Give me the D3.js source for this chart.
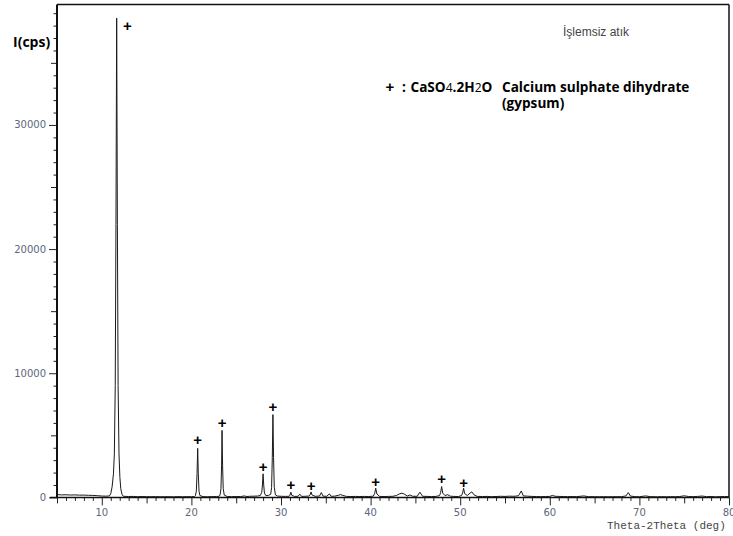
<!DOCTYPE html>
<html>
<head>
<meta charset="utf-8">
<script src="https://cdn.jsdelivr.net/npm/d3@7"></script>
<style>
body { margin: 0; background: #fff; }
svg { display: block; }
</style>
</head>
<body>
<svg width="733" height="536"></svg>
<script>
// 2theta (deg), intensity (cps)
var pattern = [
[5.0, 230],[5.5, 200],[6.0, 210],[6.5, 190],[7.0, 200],[7.5, 180],[8.0, 185],[8.5, 170],[9.0, 160],[9.5, 140],[10.0, 110],[10.5, 100],
[10.85, 120],[11.0, 300],[11.15, 850],[11.3, 1900],[11.4, 3500],[11.5, 9000],[11.58, 22000],[11.66, 38600],[11.74, 22000],[11.82, 9000],[11.92, 3500],[12.02, 1600],[12.12, 700],[12.25, 250],
[12.4, 90],[13.0, 70],[13.5, 80],[14.0, 60],[14.5, 70],[15.0, 60],[15.5, 55],[16.0, 65],[16.5, 50],[17.0, 60],[17.5, 55],[18.0, 50],[18.5, 60],[19.0, 55],[19.5, 60],[20.0, 55],[20.35, 70],
[20.45, 150],[20.55, 500],[20.63, 1900],[20.7, 3950],[20.77, 1900],[20.85, 500],[20.95, 150],
[21.3, 60],[21.8, 55],[22.3, 60],[22.8, 70],[23.1, 90],
[23.2, 200],[23.3, 700],[23.37, 2600],[23.42, 5400],[23.48, 2600],[23.55, 700],[23.67, 180],
[24.0, 70],[24.5, 60],[25.0, 70],[25.5, 65],[25.9, 120],[26.2, 70],[26.5, 90],[27.0, 100],[27.4, 110],[27.7, 160],
[27.85, 400],[27.93, 1000],[28.0, 1900],[28.07, 1000],[28.15, 350],[28.3, 150],[28.6, 160],[28.85, 250],
[28.95, 800],[29.03, 3200],[29.1, 6670],[29.17, 3200],[29.25, 800],[29.38, 200],
[29.6, 110],[30.0, 90],[30.5, 80],[30.9, 90],
[31.0, 180],[31.1, 420],[31.2, 170],[31.5, 80],[31.9, 90],[32.1, 260],[32.3, 80],[32.7, 90],[33.1, 110],
[33.25, 200],[33.35, 440],[33.45, 200],[33.8, 90],[34.3, 110],[34.5, 390],[34.7, 100],[35.1, 90],[35.4, 280],[35.6, 90],[36.0, 100],[36.4, 170],[36.65, 225],[36.9, 160],[37.3, 80],[37.8, 70],[38.3, 80],[38.8, 70],[39.3, 80],[39.8, 70],[40.3, 100],
[40.45, 300],[40.57, 740],[40.7, 280],[41.0, 80],[41.5, 70],[42.0, 80],[42.5, 90],[42.9, 160],[43.2, 280],[43.5, 340],[43.8, 250],[44.1, 110],[44.4, 200],[44.7, 90],[45.2, 90],[45.5, 420],[45.8, 90],[46.3, 80],[46.8, 70],[47.3, 80],[47.7, 150],
[47.82, 400],[47.93, 870],[48.05, 350],[48.3, 150],[48.6, 220],[48.9, 100],[49.3, 80],[49.8, 70],[50.15, 150],
[50.27, 350],[50.38, 740],[50.5, 300],[50.8, 150],[51.1, 350],[51.3, 440],[51.55, 200],[51.9, 80],[52.5, 70],[53.0, 80],[53.5, 60],[54.0, 70],[54.5, 90],[55.0, 80],[55.5, 100],[56.0, 90],[56.5, 130],[56.82, 520],[57.05, 120],[57.5, 100],[58.0, 80],[58.5, 70],[59.0, 60],[59.5, 70],[60.0, 80],[60.3, 160],[60.6, 90],[61.0, 80],[61.5, 70],[62.0, 60],[62.5, 70],[63.0, 60],[63.8, 120],[64.3, 60],[65.0, 60],[65.5, 50],[66.0, 60],[66.5, 50],[67.0, 60],[67.5, 55],[68.0, 60],[68.5, 120],[68.76, 385],[69.0, 110],[69.5, 60],[70.0, 55],[70.7, 120],[71.2, 60],[72.0, 50],[72.5, 60],[73.0, 50],[73.5, 60],[74.0, 55],[74.5, 70],[75.0, 130],[75.5, 70],[76.0, 60],[76.5, 80],[77.0, 110],[77.5, 60],[78.0, 70],[78.5, 50],[79.0, 60],[79.5, 70],[80.0, 60]
];

// gypsum peak markers (+), 2theta and cps where the mark sits
var markTheta = [12.85, 20.70, 23.42, 28.0, 29.1, 31.1, 33.35, 40.57, 47.93, 50.38];
var markCps   = [38000, 4600, 6000, 2450, 7310, 1020, 890, 1240, 1460, 1180];

var xTicks = [10, 20, 30, 40, 50, 60, 70, 80];
var yTicks = [0, 10000, 20000, 30000];

var plotL = 57, plotR = 729, plotT = 4.5, plotB = 497.4;

var xScale = d3.scaleLinear().domain([5, 80]).range([plotL, plotR]);
var yScale = d3.scaleLinear().domain([0, 39700]).range([plotB, plotT]);

var svg = d3.select("svg");

// y axis, minor ticks every 1000
var yAxis = d3.axisLeft(yScale).tickValues(d3.range(0, 39001, 1000)).tickSize(0).tickFormat("");
var yAxisG = svg.append("g").attr("transform", "translate(" + plotL + ",0)").call(yAxis);
yAxisG.select(".domain").remove();
yAxisG.selectAll(".tick line")
.attr("x2", function(d){ return d % 10000 == 0 ? -8 : (d % 5000 == 0 ? -6 : -3.5) })
.attr("stroke", "#222")

// x axis, minor ticks every degree
var xAxis = d3.axisBottom(xScale).tickValues(d3.range(5, 81, 1)).tickSize(0).tickFormat("");
var xAxisG = svg.append("g").attr("transform", "translate(0," + plotB + ")").call(xAxis);
xAxisG.select(".domain").remove();
xAxisG.selectAll(".tick line")
.attr("y2", function(d){ return d % 10 == 0 ? 8 : (d % 5 == 0 ? 6 : 3.5) })
.attr("stroke", "#222")

// tick labels
svg.append("g").selectAll("text").data(yTicks).enter().append("text")
.attr("x", 46).attr("y", function(d){ return yScale(d) + 3.5 })
.attr("text-anchor", "end")
.style("font-family", "DejaVu Sans").style("font-size", "10px").style("fill", "#5c667c")
.text(function(d){ return d })

svg.append("g").selectAll("text").data(xTicks).enter().append("text")
.attr("x", function(d){ return xScale(d) }).attr("y", 516)
.attr("text-anchor", "middle")
.style("font-family", "DejaVu Sans").style("font-size", "10px").style("fill", "#5c667c")
.text(function(d){ return d })

// frame
var frame = svg.append("g").attr("fill", "none").attr("stroke", "#111");
frame.append("line").attr("x1", plotL).attr("x2", plotL).attr("y1", plotT).attr("y2", plotB).attr("stroke-width", 2);
frame.append("line").attr("x1", plotL).attr("x2", plotR).attr("y1", plotT).attr("y2", plotT).attr("stroke-width", 1.5);
frame.append("line").attr("x1", plotR).attr("x2", plotR).attr("y1", plotT).attr("y2", plotB).attr("stroke-width", 1.5);
frame.append("line").attr("x1", 50).attr("x2", plotR).attr("y1", plotB).attr("y2", plotB).attr("stroke-width", 1.5);

// pattern
var line = d3.line().x(function(d){ return xScale(d[0]) }).y(function(d){ return yScale(d[1]) });
svg.append("path").datum(pattern)
.attr("d", line)
.attr("fill", "none")
.attr("stroke", "#1a1a1a")
.attr("stroke-width", 1)

// + marks
svg.append("g").selectAll("text").data(markTheta).enter().append("text")
.attr("x", function(d){ return xScale(d) })
.attr("y", function(d, i){ return yScale(markCps[i]) + 5 })
.attr("text-anchor", "middle")
.style("font-family", "Liberation Sans").style("font-weight", "bold").style("font-size", "15px").style("fill", "#000")
.text("+")

// texts
svg.append("text").attr("x", 13).attr("y", 47)
.style("font-family", "Open Sans").style("font-weight", "bold").style("font-size", "14px").style("fill", "#000")
.text("I(cps)")

svg.append("text").attr("x", 563).attr("y", 36)
.style("font-family", "Liberation Sans").style("font-size", "12px").style("fill", "#444")
.text("İşlemsiz atık")

svg.append("text").attr("x", 607).attr("y", 529)
.style("font-family", "Liberation Mono").style("font-size", "11px").style("fill", "#444")
.text("Theta-2Theta (deg)")

var legend = svg.append("g").style("font-family", "Open Sans").style("font-weight", "bold").style("font-size", "13.6px").style("fill", "#000");
legend.append("text").attr("x", 390).attr("y", 92).attr("text-anchor", "middle").style("font-family", "Liberation Sans").style("font-size", "15px").text("+");
legend.append("text").attr("x", 402).attr("y", 92).text(":");
var formula = legend.append("text").attr("x", 410.5).attr("y", 92);
formula.append("tspan").text("CaSO");
formula.append("tspan").style("font-weight", "normal").style("font-size", "12px").text("4");
formula.append("tspan").text(".2H");
formula.append("tspan").style("font-weight", "normal").style("font-size", "12px").text("2");
formula.append("tspan").text("O");
legend.append("text").attr("x", 502).attr("y", 92).text("Calcium sulphate dihydrate");
legend.append("text").attr("x", 502).attr("y", 108).text("(gypsum)");
</script>
</body>
</html>
